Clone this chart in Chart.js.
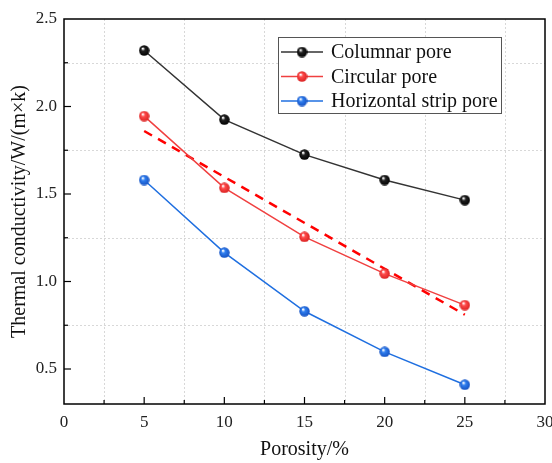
<!DOCTYPE html>
<html>
<head>
<meta charset="utf-8">
<script src="https://cdn.jsdelivr.net/npm/chart.js@4"></script>
<style>
  html, body { margin: 0; padding: 0; background: #fff; }
  #wrap { width: 552px; height: 463px; }
</style>
</head>
<body>
<div id="wrap"><canvas id="graficoPoros" width="552" height="463"></canvas></div>
<script>
// Porosidade (%) e condutividade térmica W/(m×k) por tipo de poro
const porosity = [5, 10, 15, 20, 25];
const columnarPore = [2.32, 1.925, 1.725, 1.58, 1.465];
const circularPore = [1.945, 1.535, 1.255, 1.045, 0.865];
const stripPore = [1.58, 1.165, 0.83, 0.598, 0.41];

// Reta ajustada (tracejada) dos poros circulares
const fitX = [5, 25];
const fitCircular = [1.86, 0.81];

const xTicks = [0, 5, 10, 15, 20, 25, 30];
const yTicks = [0.5, 1.0, 1.5, 2.0, 2.5];

const FONT = "'Liberation Serif', 'Times New Roman', serif";

// Marcador em forma de esfera
function esfera(cor, escura) {
  const c = document.createElement('canvas');
  c.width = 11; c.height = 11;
  const g = c.getContext('2d');
  const grad = g.createRadialGradient(4, 3.5, 0.5, 5.5, 5.5, 5.5);
  grad.addColorStop(0, '#ffffff');
  grad.addColorStop(0.3, cor);
  grad.addColorStop(1, escura);
  g.fillStyle = grad;
  g.beginPath();
  g.arc(5.5, 5.5, 5.2, 0, Math.PI * 2);
  g.fill();
  return c;
}

const bolaPreta = esfera('#222', '#000');
const bolaVermelha = esfera('#ff4b4b', '#d92020');
const bolaAzul = esfera('#2f7ff0', '#1550c0');

const pares = (xs, ys) => xs.map((x, i) => ({ x: x, y: ys[i] }));

const series = [
  { label: 'Columnar pore', data: columnarPore, line: '#333333', ball: bolaPreta },
  { label: 'Circular pore', data: circularPore, line: '#f04040', ball: bolaVermelha },
  { label: 'Horizontal strip pore', data: stripPore, line: '#1f6fe0', ball: bolaAzul }
];

const datasets = series.map(s => ({
  label: s.label,
  data: pares(porosity, s.data),
  borderColor: s.line,
  borderWidth: 1.5,
  pointStyle: s.ball,
  pointRadius: 5,
  fill: false,
  tension: 0
}));

datasets.push({
  label: 'fit',
  data: pares(fitX, fitCircular),
  borderColor: '#ff0000',
  borderWidth: 2.5,
  borderDash: [9, 7],
  pointRadius: 0,
  fill: false
});

// Grade pontilhada nos meios-passos, moldura, ticks internos e legenda
const molduraPlugin = {
  id: 'moldura',
  beforeDatasetsDraw(chart) {
    const { ctx, chartArea: a, scales: { x, y } } = chart;
    ctx.save();
    ctx.strokeStyle = '#d8d8d8';
    ctx.lineWidth = 1;
    ctx.setLineDash([2, 2]);
    for (let v = 2.5; v < 30; v += 5) {
      const px = Math.round(x.getPixelForValue(v)) + 0.5;
      ctx.beginPath(); ctx.moveTo(px, a.top); ctx.lineTo(px, a.bottom); ctx.stroke();
    }
    for (let v = 0.75; v < 2.5; v += 0.5) {
      const py = Math.round(y.getPixelForValue(v)) + 0.5;
      ctx.beginPath(); ctx.moveTo(a.left, py); ctx.lineTo(a.right, py); ctx.stroke();
    }
    ctx.restore();
  },
  afterDraw(chart) {
    const { ctx, chartArea: a, scales: { x, y } } = chart;
    ctx.save();
    ctx.strokeStyle = '#000';
    ctx.lineWidth = 1.5;
    ctx.setLineDash([]);
    ctx.strokeRect(a.left, a.top, a.right - a.left, a.bottom - a.top);

    ctx.lineWidth = 1.2;
    for (let v = 2.5; v < 30; v += 2.5) {
      const px = x.getPixelForValue(v);
      const len = v % 5 === 0 ? 7 : 4;
      ctx.beginPath(); ctx.moveTo(px, a.bottom); ctx.lineTo(px, a.bottom - len); ctx.stroke();
    }
    for (let v = 0.5; v < 2.5; v += 0.25) {
      const py = y.getPixelForValue(v);
      const len = Math.abs(v * 2 - Math.round(v * 2)) < 1e-6 ? 7 : 4;
      ctx.beginPath(); ctx.moveTo(a.left, py); ctx.lineTo(a.left + len, py); ctx.stroke();
    }

    // legenda
    const lx = 278, ly = 37, lw = 223, lh = 76;
    ctx.fillStyle = '#fff';
    ctx.fillRect(lx, ly, lw, lh);
    ctx.strokeStyle = '#555';
    ctx.lineWidth = 1;
    ctx.strokeRect(lx + 0.5, ly + 0.5, lw, lh);
    ctx.font = '20px ' + FONT;
    ctx.textBaseline = 'middle';
    ctx.textAlign = 'left';
    series.forEach((s, i) => {
      const cy = 52 + i * 24.5;
      ctx.strokeStyle = s.line;
      ctx.lineWidth = 1.5;
      ctx.beginPath(); ctx.moveTo(281, cy); ctx.lineTo(323, cy); ctx.stroke();
      ctx.drawImage(s.ball, 302 - 5.5, cy - 5.5);
      ctx.fillStyle = '#111';
      ctx.fillText(s.label, 331, cy + 1);
    });
    ctx.restore();
  }
};

const config = {
  type: 'line',
  data: { datasets: datasets },
  options: {
    responsive: false,
    animation: false,
    layout: { padding: { top: 19, right: 7, left: 0, bottom: 0 } },
    plugins: {
      legend: { display: false },
      tooltip: { enabled: false }
    },
    scales: {
      x: {
        type: 'linear',
        min: 0,
        max: 30,
        afterBuildTicks: scale => { scale.ticks = xTicks.map(v => ({ value: v })); },
        afterFit: scale => {
          scale.height = 59;
          scale.paddingLeft = 0;
          scale.paddingRight = 0;
        },
        grid: { display: false, drawTicks: false },
        border: { display: false },
        ticks: {
          color: '#222',
          padding: 8,
          maxRotation: 0,
          autoSkip: false,
          font: { family: FONT, size: 17 }
        },
        title: {
          display: true,
          text: 'Porosity/%',
          color: '#111',
          font: { family: FONT, size: 20 },
          padding: { top: 0, bottom: 1 }
        }
      },
      y: {
        min: 0.3,
        max: 2.5,
        afterBuildTicks: scale => { scale.ticks = yTicks.map(v => ({ value: v })); },
        afterFit: scale => {
          scale.width = 64;
          scale.paddingTop = 0;
          scale.paddingBottom = 0;
        },
        grid: { display: false, drawTicks: false },
        border: { display: false },
        ticks: {
          color: '#222',
          padding: 7,
          autoSkip: false,
          font: { family: FONT, size: 17 },
          callback: v => v.toFixed(1)
        },
        title: {
          display: true,
          text: 'Thermal conductivity/W/(m×k)',
          color: '#111',
          font: { family: FONT, size: 20 },
          padding: { top: 8, bottom: 0 }
        }
      }
    }
  },
  plugins: [molduraPlugin]
};

const graficoPoros = new Chart(document.getElementById('graficoPoros').getContext('2d'), config);
</script>
</body>
</html>
